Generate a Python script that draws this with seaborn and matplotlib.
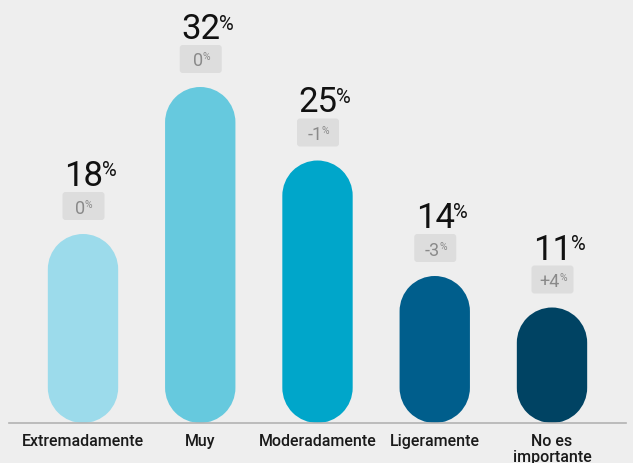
import matplotlib
matplotlib.use("Agg")
import matplotlib.pyplot as plt
import matplotlib.transforms as mtransforms
from matplotlib.patches import FancyBboxPatch, PathPatch
from matplotlib.path import Path
from matplotlib.offsetbox import TextArea, HPacker, AnnotationBbox
import numpy as np
import pandas as pd
import seaborn as sns

# Share of respondents per importance level, and change vs previous wave
categories = ["Extremadamente", "Muy", "Moderadamente", "Ligeramente", "No es\nimportante"]
shares = [18, 32, 25, 14, 11]
changes = ["0", "0", "-1", "-3", "+4"]
colors = ["#9cdbeb", "#66c9de", "#00a6ca", "#005e8c", "#004363"]

BG = "#eeeeee"
BADGE = "#dddddd"
BADGE_TXT = "#8a8a8a"

sns.set_theme(style="white")
plt.rcParams["font.family"] = ["Roboto", "DejaVu Sans"]

W, H, DPI = 633, 463, 100
fig = plt.figure(figsize=(W / DPI, H / DPI), dpi=DPI, facecolor=BG)

# axes geometry in pixels
left_px, right_px, base_px = 9, 626, 423
ax = fig.add_axes([left_px / W, (H - base_px) / H, (right_px - left_px) / W, base_px / H])
ax.set_facecolor(BG)

df = pd.DataFrame({"categoria": categories, "valor": shares})
sns.barplot(data=df, x="categoria", y="valor", hue="categoria", palette=colors,
            width=0.6, saturation=1, legend=False, ax=ax)

# axis limits: first bar centre 74 px from the left edge, 10.5 px per percent
step_px = (right_px - left_px) / (len(categories) - 1 + 2 * (83 - left_px) / 117.25)
margin = (83 - left_px) / step_px
xlim = (-margin, len(categories) - 1 + margin)
ylim = (0, base_px / 10.5)

x_per_px = (xlim[1] - xlim[0]) / (right_px - left_px)
y_per_px = (ylim[1] - ylim[0]) / base_px
aspect = y_per_px / x_per_px


def pill_path(x, w, h, asp):
    """Capsule outline in data units: semicircular caps at both ends."""
    r = w / 2
    ry = r * asp
    cx = x + w / 2
    top = Path.arc(0, 180)
    bot = Path.arc(180, 360)
    vt = top.vertices * [r, ry] + [cx, h - ry]
    vb = bot.vertices * [r, ry] + [cx, ry]
    cb = bot.codes.copy()
    cb[0] = Path.LINETO
    verts = np.vstack([vt, vb, vt[:1]])
    codes = np.concatenate([top.codes, cb, [Path.CLOSEPOLY]])
    return Path(verts, codes)


# replace the flat bars with capsules of the same position and height
bars = list(ax.patches)
for bar in bars:
    x, w, h = bar.get_x(), bar.get_width(), bar.get_height()
    fc = bar.get_facecolor()
    bar.remove()
    ax.add_patch(PathPatch(pill_path(x, w, h, aspect), facecolor=fc, edgecolor="none", zorder=2))

# value labels and change badges above each bar
for i, (v, chg) in enumerate(zip(shares, changes)):
    anchor = mtransforms.Affine2D() + mtransforms.ScaledTranslation(i, v, ax.transData)
    badge = FancyBboxPatch((-21 + 0.5, 14), 42, 28, boxstyle="round,pad=0,rounding_size=3",
                           facecolor=BADGE, edgecolor="none", transform=anchor, clip_on=False)
    ax.add_artist(badge)

    num = TextArea(chg, textprops=dict(fontsize=13, color=BADGE_TXT))
    pct = TextArea("%", textprops=dict(fontsize=7.5, color=BADGE_TXT))
    pack = HPacker(children=[num, pct], align="top", pad=0, sep=-0.5)
    ab = AnnotationBbox(pack, (i, v), xybox=(1, 25.5), xycoords="data",
                        boxcoords="offset pixels", box_alignment=(0.5, 0.5),
                        frameon=False, pad=0, annotation_clip=False)
    ax.add_artist(ab)

    big = ax.annotate(f"{v}", xy=(i, v), xytext=(0.5, 48), textcoords="offset pixels",
                      ha="center", va="baseline", fontsize=25, color="#111111",
                      annotation_clip=False)
    ax.annotate("%", xy=(1, 1), xycoords=big, xytext=(-1.5, -1.5), textcoords="offset pixels",
                ha="left", va="top", fontsize=14.5, color="#111111", annotation_clip=False)

ax.set_xlim(*xlim)
ax.set_ylim(*ylim)
ax.set_xlabel("")
ax.set_ylabel("")
ax.set_yticks([])
for side in ("top", "left", "right"):
    ax.spines[side].set_visible(False)
ax.spines["bottom"].set_color("#b3b3b3")
ax.spines["bottom"].set_linewidth(1.2)
ax.tick_params(axis="x", length=0, pad=8, labelsize=11.5, labelcolor="#1a1a1a")
for lab in ax.get_xticklabels():
    lab.set_fontweight(500)
    lab.set_linespacing(1.1)

fig.savefig("out.png", dpi=DPI, facecolor=BG)
